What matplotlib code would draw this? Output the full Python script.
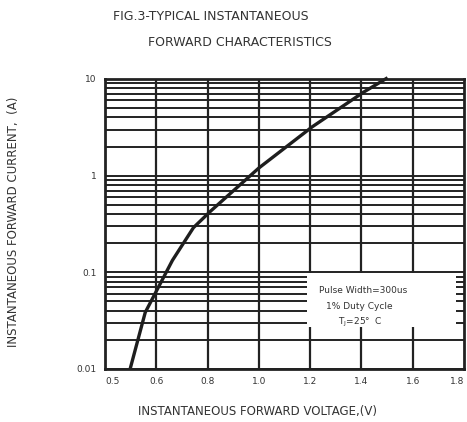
import matplotlib.pyplot as plt
from matplotlib.patches import Rectangle

# forward voltage (V) vs instantaneous forward current (A)
voltage = [0.498, 0.557, 0.663, 0.745, 0.812, 1.0, 1.208, 1.408, 1.502]
current = [0.01, 0.0385, 0.133, 0.29, 0.43, 1.2, 3.2, 7.3, 10.3]

x_ticks = [0.4, 0.6, 0.8, 1.0, 1.2, 1.4, 1.6, 1.8]
x_labels = ["0.5", "0.6", "0.8", "1.0", "1.2", "1.4", "1.6", "1.8"]
y_ticks = [0.01, 0.1, 1, 10]
y_labels = ["0.01", "0.1", "1", "10"]

ink = "#222222"
txt = "#333333"

fig = plt.figure(figsize=(4.67, 4.22), dpi=100)
ax = fig.add_axes([0.2248, 0.1256, 0.7688, 0.6872])

ax.set_yscale("log")
ax.set_xlim(0.4, 1.8)
ax.set_ylim(0.01, 10)

# log grid lines: every 1..9 of each decade
for dec in [0.01, 0.1, 1]:
    for k in range(1, 10):
        ax.axhline(dec * k, color=ink, lw=1.4, zorder=1)
for xv in x_ticks[1:-1]:
    ax.axvline(xv, color=ink, lw=1.6, zorder=1)

# note box covers the grid
ax.add_patch(Rectangle((0.563, 0.145), 0.415, 0.186, transform=ax.transAxes,
                       facecolor="white", edgecolor="none", zorder=2))
ax.text(0.719, 0.269, "Pulse Width=300us", transform=ax.transAxes,
        ha="center", va="center", fontsize=6.5, color=txt, zorder=3)
ax.text(0.707, 0.214, "1% Duty Cycle", transform=ax.transAxes,
        ha="center", va="center", fontsize=6.5, color=txt, zorder=3)
ax.text(0.712, 0.159, r"T$_\mathregular{J}$=25°  C", transform=ax.transAxes,
        ha="center", va="center", fontsize=6.5, color=txt, zorder=3)

ax.plot(voltage, current, color="#1e1e1e", lw=2.4, zorder=4, clip_on=False,
        solid_capstyle="butt")

ax.set_xticks(x_ticks)
ax.set_xticklabels(x_labels)
ax.set_yticks(y_ticks)
ax.set_yticklabels(y_labels)
ax.minorticks_off()
ax.tick_params(length=0, labelsize=6.5, labelcolor=txt, pad=6)
xt = ax.get_xticklabels()
xt[0].set_ha("left")
xt[-1].set_ha("right")
for s in ax.spines.values():
    s.set_linewidth(2)
    s.set_color(ink)
    s.set_zorder(5)

fig.text(0.242, 0.96, "FIG.3-TYPICAL INSTANTANEOUS", fontsize=9, color=txt,
         ha="left", va="center")
fig.text(0.317, 0.90, "FORWARD CHARACTERISTICS", fontsize=9, color=txt,
         ha="left", va="center")
fig.text(0.552, 0.026, "INSTANTANEOUS FORWARD VOLTAGE,(V)", fontsize=8.5,
         color=txt, ha="center", va="center")
fig.text(0.028, 0.474, "INSTANTANEOUS FORWARD CURRENT,  (A)", fontsize=8.5,
         color=txt, ha="center", va="center", rotation=90)

fig.savefig("out.png", dpi=100)
